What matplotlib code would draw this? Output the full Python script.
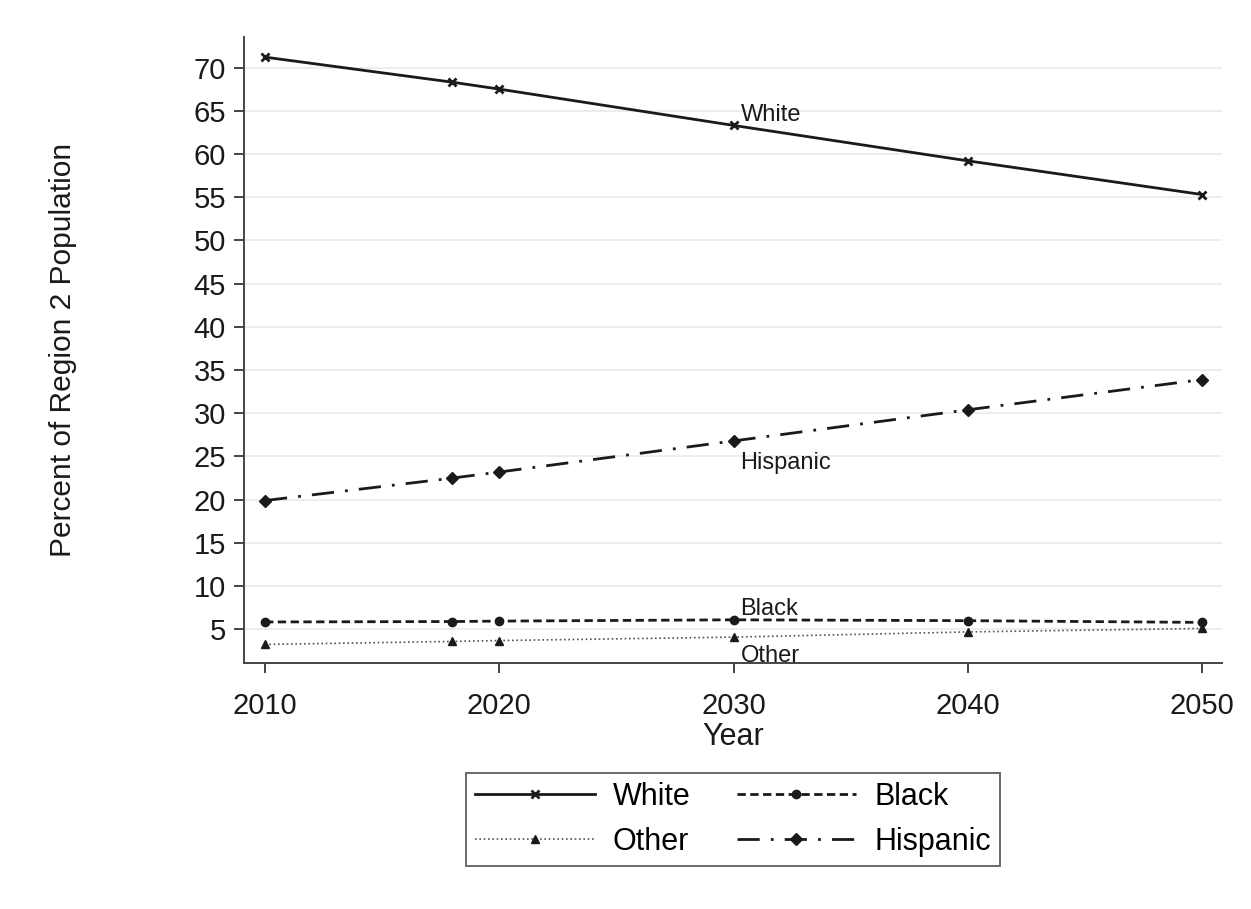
import matplotlib
matplotlib.use('Agg')
import matplotlib.pyplot as plt

plt.rcParams['font.family'] = ['Liberation Sans', 'DejaVu Sans']

years = [2010, 2018, 2020, 2030, 2040, 2050]
white = [71.2, 68.3, 67.5, 63.3, 59.2, 55.3]
black = [5.85, 5.9, 5.95, 6.1, 6.0, 5.8]
other = [3.25, 3.6, 3.7, 4.1, 4.7, 5.1]
hispanic = [19.9, 22.5, 23.2, 26.8, 30.4, 33.9]

xticks = [2010, 2020, 2030, 2040, 2050]
yticks = list(range(5, 75, 5))

fig = plt.figure(figsize=(12.51, 9.09), dpi=100)
ax = fig.add_axes([0.195, 0.2706, 0.782, 0.6884])

for y in yticks:
    ax.axhline(y, color='#e6eff1', lw=1.4, zorder=0)

ax.plot(years, white, '-', color='#1a1a1a', lw=2.0, marker='x', ms=6, mew=2.0,
        label='White')
ax.plot(years, black, color='#1a1a1a', lw=2.0, ls=(0, (3, 1.6)), marker='o', ms=6,
        label='Black')
ax.plot(years, other, color='#555555', lw=1.2, ls=(0, (1, 1.6)), marker='^', ms=5.5,
        mfc='#1a1a1a', mec='#1a1a1a', label='Other')
ax.plot(years, hispanic, color='#1a1a1a', lw=2.0, ls=(0, (8, 4, 1, 4)), marker='D', ms=6,
        label='Hispanic')

# series labels beside the 2030 point (offsets in points)
i30 = years.index(2030)
for vals, name, dy in [(white, 'White', 7.5), (hispanic, 'Hispanic', -16),
                       (black, 'Black', 8), (other, 'Other', -13.5)]:
    ax.annotate(name, (years[i30], vals[i30]), xytext=(5, dy), textcoords='offset points',
                ha='left', va='center', fontsize=17, color='#1a1a1a')

ax.set_xlim(2009.1, 2050.85)
ax.set_ylim(1.1, 73.5)
ax.set_xticks(xticks)
ax.set_yticks(yticks)
ax.tick_params(axis='both', labelsize=21, color='#444444', length=7, width=1.4,
               labelcolor='#1a1a1a')
ax.tick_params(axis='x', pad=14)
ax.tick_params(axis='y', pad=6)
for s in ['top', 'right']:
    ax.spines[s].set_visible(False)
for s in ['left', 'bottom']:
    ax.spines[s].set_color('#444444')
    ax.spines[s].set_linewidth(1.4)

ax.set_xlabel('Year', fontsize=22, color='#1a1a1a')
ax.xaxis.set_label_coords(0.5, -0.094)
ax.set_ylabel('Percent of Region 2 Population', fontsize=21.5, color='#1a1a1a')
ax.yaxis.set_label_coords(-0.171, 0.5)

handles, labels = ax.get_legend_handles_labels()
order = [0, 2, 1, 3]
leg = fig.legend([handles[i] for i in order], [labels[i] for i in order],
                 loc='center', bbox_to_anchor=(0.586, 0.0985), ncol=2, fontsize=22,
                 numpoints=1, handlelength=3.9, columnspacing=1.5, handletextpad=0.6,
                 frameon=True, fancybox=False, edgecolor='#444444',
                 borderpad=0.3, labelspacing=0.5, borderaxespad=0)
leg.get_frame().set_linewidth(1.4)

fig.savefig('out.png', dpi=100, facecolor='white')
